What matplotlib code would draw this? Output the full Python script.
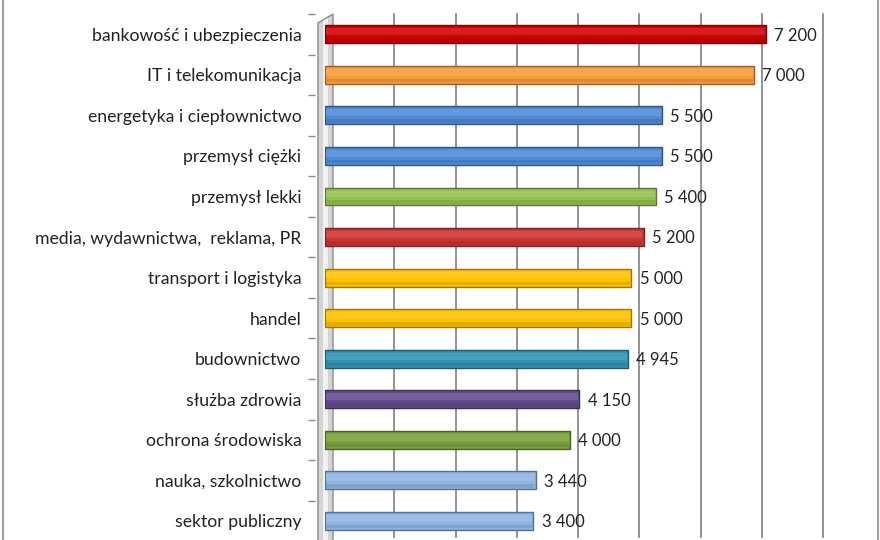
import matplotlib
matplotlib.use("Agg")
import matplotlib.pyplot as plt
import matplotlib.transforms as mtransforms
import matplotlib.colors as mc
from matplotlib.patches import Polygon
from matplotlib.lines import Line2D
import numpy as np

plt.rcParams['font.family'] = ['Lato', 'DejaVu Sans']

categories = [
    "bankowość i ubezpieczenia",
    "IT i telekomunikacja",
    "energetyka i ciepłownictwo",
    "przemysł ciężki",
    "przemysł lekki",
    "media, wydawnictwa,  reklama, PR",
    "transport i logistyka",
    "handel",
    "budownictwo",
    "służba zdrowia",
    "ochrona środowiska",
    "nauka, szkolnictwo",
    "sektor publiczny",
]
values = [7200, 7000, 5500, 5500, 5400, 5200, 5000, 5000, 4945, 4150, 4000, 3440, 3400]
colors = ["#CC0000", "#F79A3A", "#4F8AD8", "#4F8AD8", "#92C050", "#CC3333",
          "#FFC000", "#FFC000", "#2E93B0", "#644A8C", "#78A03C", "#8DB4E2", "#8DB4E2"]
x_ticks = [0, 1000, 2000, 3000, 4000, 5000, 6000, 7000, 8000]

W, H, DPI = 880, 540, 100
fig = plt.figure(figsize=(W / DPI, H / DPI), dpi=DPI)
fig.patch.set_facecolor("white")

left_px, right_px = 325, 815
top_px, bottom_px = 14, 542
ax = fig.add_axes([left_px / W, 1 - bottom_px / H, (right_px - left_px) / W, (bottom_px - top_px) / H])
ax.set_facecolor("none")
ax.set_zorder(2)
n = len(categories)
y = np.arange(n)
ax.set_xlim(x_ticks[0], x_ticks[-1])
ax.set_ylim(12.52, -0.467)
for s in ax.spines.values():
    s.set_visible(False)

# back-wall gridlines (shifted right, 3D look)
shift = mtransforms.ScaledTranslation(8 / DPI, 0, fig.dpi_scale_trans)
gtrans = ax.get_xaxis_transform() + shift
for xv in x_ticks[1:]:
    ax.add_line(Line2D([xv, xv], [0.01, 1.0], transform=gtrans, color="#8a8a8a",
                       lw=1.3, zorder=0, clip_on=False))

def fx(px):
    return px / W
def fy(py):
    return 1 - py / H

# side wall (decoration)
wall = Polygon([(fx(318), fy(23)), (fx(333), fy(14)), (fx(333), fy(545)), (fx(318), fy(545))],
               closed=True, transform=fig.transFigure, facecolor="#d4d4d4",
               edgecolor="#8a8a8a", lw=1.0, zorder=1)
fig.patches.append(wall)
hl = Polygon([(fx(323), fy(21)), (fx(328), fy(18)), (fx(328), fy(545)), (fx(323), fy(545))],
             closed=True, transform=fig.transFigure, facecolor="#f2f2f2",
             edgecolor="none", zorder=1)
fig.patches.append(hl)

# bars with soft cylinder shading
bh = 0.44
for yi, v, c in zip(y, values, colors):
    rgb = np.array(mc.to_rgb(c))
    edge = tuple(rgb * 0.62)
    ax.barh(yi, v, height=bh, color=c, edgecolor=edge, linewidth=1.0, zorder=3)
    lighter = tuple(rgb + (1 - rgb) * 0.12)
    ax.barh(yi - bh * 0.14, v - 40, left=20, height=bh * 0.38, color=lighter,
            edgecolor="none", zorder=4)
    darker = tuple(rgb * 0.9)
    ax.barh(yi + bh * 0.32, v - 40, left=20, height=bh * 0.2, color=darker,
            edgecolor="none", zorder=4)
    ax.annotate(f"{v:,}".replace(",", " "), xy=(v, yi), xytext=(6, -1), textcoords="offset points",
                ha="left", va="center", fontsize=12, color="#222222", zorder=5)

ax.set_xticks([])
ax.set_yticks(y)
ax.set_yticks(np.arange(-0.5, n, 1.0), minor=True)
ax.spines['left'].set_position(('outward', 7))
ax.tick_params(axis="y", which="major", length=0, pad=10, labelsize=12.7, labelcolor="#222222")
ax.tick_params(axis="y", which="minor", length=5, width=1, color="#8a8a8a", direction="out")
ax.set_yticklabels(categories)

fig.add_artist(Line2D([fx(3), fx(3)], [0, 1], transform=fig.transFigure, color="#a0a0a0", lw=1.5))
fig.add_artist(Line2D([fx(878), fx(878)], [0, 1], transform=fig.transFigure, color="#a0a0a0", lw=1.5))

fig.savefig("out.png", dpi=DPI, facecolor="white")
